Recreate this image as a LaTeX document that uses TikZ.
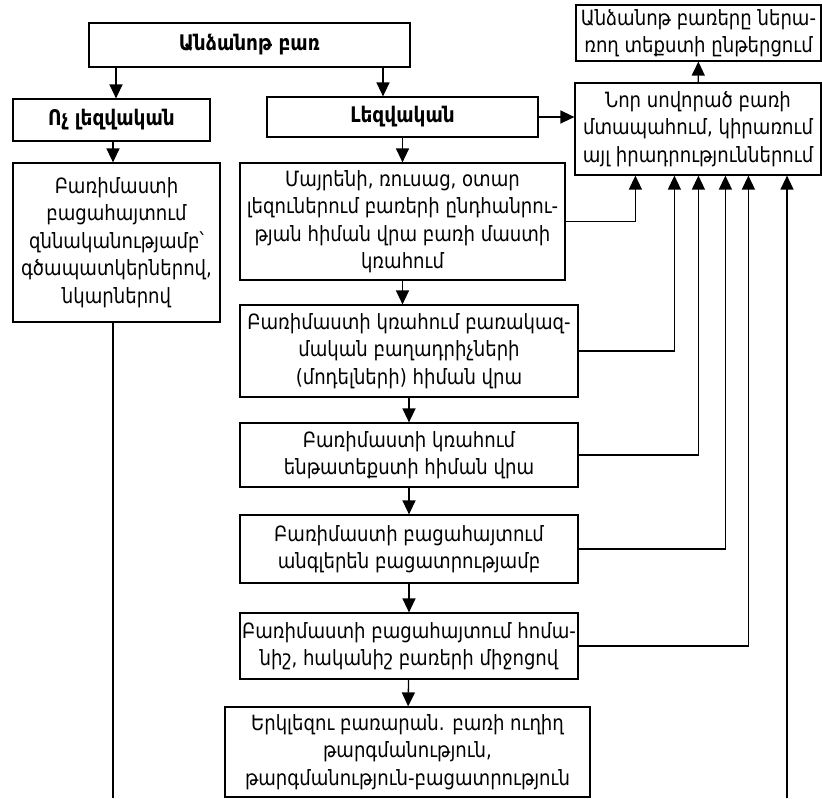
\documentclass[tikz,border=0pt]{standalone}
\usepackage{fontspec}
\setmainfont[FakeStretch=0.86]{DejaVu Sans}
\usepackage{tikz}
\usetikzlibrary{arrows.meta,
                calc,
                positioning}

\tikzset{box/.style={draw, line width=1.2pt, align=center, inner sep=0pt,
                     font=\fontsize{21}{27.5}\selectfont},
         boldbox/.style={box, font=\fontsize{21.5}{27}\selectfont\bfseries},
         arr/.style={-{Triangle[length=14pt,width=13pt]}, line width=1.3pt}}

\begin{document}
\begin{tikzpicture}[x=1pt,y=-1pt]
\useasboundingbox (0,0) rectangle (822,798);

\node[boldbox,minimum width=321pt,minimum height=44pt] (word) at (249.5,45) {Անձանոթ բառ};
\node[boldbox,minimum width=197pt,minimum height=42pt] (nonling) at (111.5,120) {Ոչ լեզվական};
\node[boldbox,minimum width=271pt,minimum height=40pt] (ling) at (402.5,117) {Լեզվական};

\node[box,minimum width=245pt,minimum height=56pt] (read) at (698.5,33)
  {Անձանոթ բառերը ներա-\\ռող տեքստի ընթերցում};
\node[box,minimum width=246pt,minimum height=92pt] (memo) at (698,129)
  {Նոր սովորած բառի\\մտապահում, կիրառում\\այլ իրադրություններում};

\node[box,minimum width=207pt,minimum height=159pt] (visual) at (116.5,242.5)
  {Բառիմաստի\\բացահայտում\\զննականությամբ՝\\գծապատկերներով,\\նկարներով};

\node[box,minimum width=325pt,minimum height=117pt] (g1) at (402.5,221.5)
  {Մայրենի, ռուսաց, օտար\\լեզուներում բառերի ընդհանրու-\\թյան հիման վրա բառի մաստի\\կռահում};
\node[box,minimum width=338pt,minimum height=92pt] (g2) at (409,351)
  {Բառիմաստի կռահում բառակազ-\\մական բաղադրիչների\\(մոդելների) հիման վրա};
\node[box,minimum width=338pt,minimum height=64pt] (g3) at (409,455)
  {Բառիմաստի կռահում\\ենթատեքստի հիման վրա};
\node[box,minimum width=338pt,minimum height=68pt] (g4) at (409,549)
  {Բառիմաստի բացահայտում\\անգլերեն բացատրությամբ};
\node[box,minimum width=338pt,minimum height=66pt] (g5) at (409,646)
  {Բառիմաստի բացահայտում հոմա-\\նիշ, հականիշ բառերի միջոցով};
\node[box,minimum width=365pt,minimum height=90pt] (g6) at (407.5,752)
  {Երկլեզու բառարան. բառի ուղիղ\\թարգմանություն,\\թարգմանություն-բացատրություն};

\coordinate (lbot) at (113,798);
\coordinate (rbot) at (787,798);

\draw[arr] ([xshift=4.5pt]word.south -| nonling.north) -- ([xshift=4.5pt]nonling.north);
\draw[arr] ([xshift=-19.5pt]word.south -| ling.north) -- ([xshift=-19.5pt]ling.north);
\draw[arr] (nonling.south -| lbot) -- (visual.north -| lbot);
\draw[arr] (ling.east) -- (memo.west |- ling.east);
\draw[arr] (ling) -- (g1);
\draw[arr] (memo) -- (read);

\draw[arr] (g1.south) -- (g1.south |- g2.north);
\draw[arr] (g2) -- (g3);
\draw[arr] (g3) -- (g4);
\draw[arr] (g4) -- (g5);
\draw[arr] (g5) -- (g6);

\foreach \b/\dx in {g1/61,g2/100,g3/124,g4/151,g5/174}
  \draw[arr] (\b.east) -| ([xshift=\dx pt]memo.south west);

\draw[line width=1.3pt] (visual.south -| lbot) -- (lbot);
\draw[arr] (rbot) -- (rbot |- memo.south);
\end{tikzpicture}
\end{document}
